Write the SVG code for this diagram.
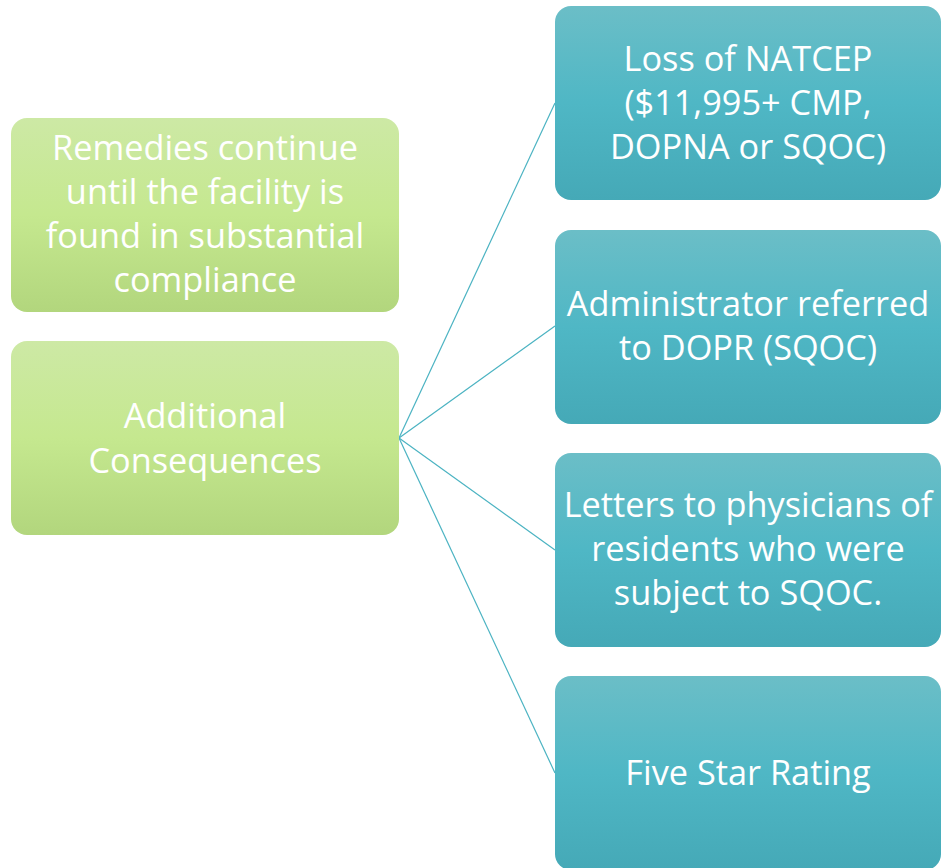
<svg xmlns="http://www.w3.org/2000/svg" width="941" height="868" viewBox="0 0 941 868">
<defs>
<linearGradient id="gg" x1="0" y1="0" x2="0" y2="1">
<stop offset="0" stop-color="#cde9a5"/>
<stop offset="0.5" stop-color="#c5e88f"/>
<stop offset="1" stop-color="#b2d67d"/>
</linearGradient>
<linearGradient id="tg" x1="0" y1="0" x2="0" y2="1">
<stop offset="0" stop-color="#6bbec7"/>
<stop offset="0.5" stop-color="#4fb7c5"/>
<stop offset="1" stop-color="#45a9b7"/>
</linearGradient>
<style>
.g{fill:url(#gg)}
.t{fill:url(#tg)}
text{font-family:"Open Sans","Liberation Sans",sans-serif;font-size:34.3px;fill:#ffffff;text-anchor:middle}
.c line{stroke:#4bb3c2;stroke-width:1.2}
</style>
</defs>
<g class="c">
<line x1="399" y1="438" x2="555" y2="103"/>
<line x1="399" y1="438" x2="555" y2="326"/>
<line x1="399" y1="438" x2="555" y2="550"/>
<line x1="399" y1="438" x2="555" y2="773"/>
</g>
<g id="remedies">
<rect class="g" x="11" y="118" width="388" height="194" rx="16"/>
<text x="205" y="160">Remedies continue</text>
<text x="205" y="204">until the facility is</text>
<text x="205" y="248">found in substantial</text>
<text x="205" y="292">compliance</text>
</g>
<g id="additional">
<rect class="g" x="11" y="341" width="388" height="194" rx="16"/>
<text x="205" y="428">Additional</text>
<text x="205" y="473">Consequences</text>
</g>
<g id="natcep">
<rect class="t" x="555" y="6" width="386" height="194" rx="16"/>
<text x="748" y="71">Loss of NATCEP</text>
<text x="748" y="115">($11,995+ CMP,</text>
<text x="748" y="159">DOPNA or SQOC)</text>
</g>
<g id="admin">
<rect class="t" x="555" y="230" width="386" height="194" rx="16"/>
<text x="748" y="316">Administrator referred</text>
<text x="748" y="360">to DOPR (SQOC)</text>
</g>
<g id="letters">
<rect class="t" x="555" y="453" width="386" height="194" rx="16"/>
<text x="748" y="517">Letters to physicians of</text>
<text x="748" y="561">residents who were</text>
<text x="748" y="605">subject to SQOC.</text>
</g>
<g id="fivestar">
<rect class="t" x="555" y="676" width="386" height="194" rx="16"/>
<text x="748" y="785">Five Star Rating</text>
</g>
</svg>
